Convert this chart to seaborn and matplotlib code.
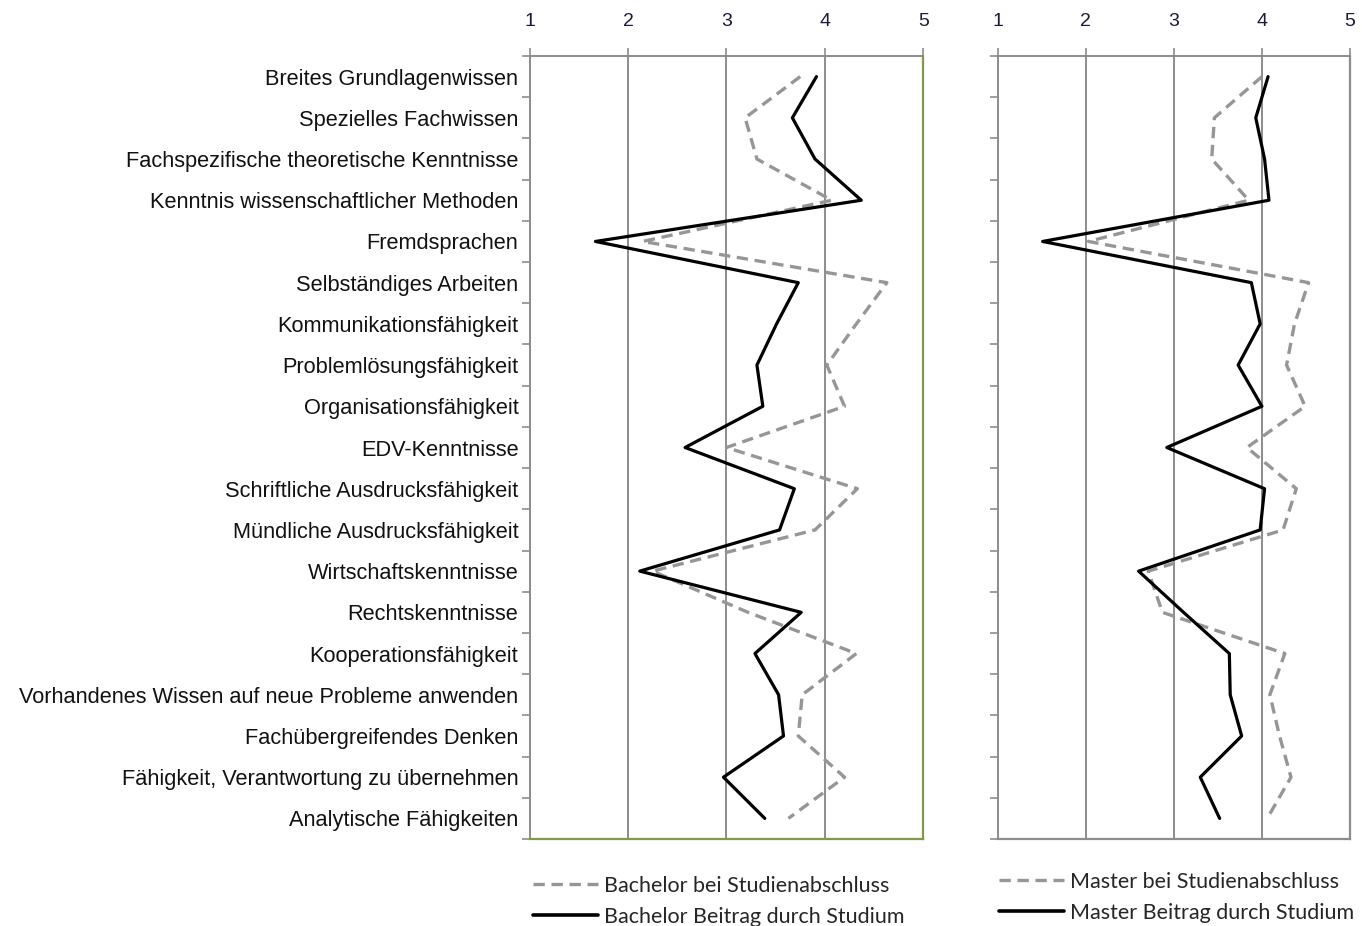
import matplotlib
matplotlib.use("Agg")
import matplotlib.pyplot as plt
import seaborn as sns
import pandas as pd
import numpy as np
from matplotlib.lines import Line2D

categories = [
    "Breites Grundlagenwissen",
    "Spezielles Fachwissen",
    "Fachspezifische theoretische Kenntnisse",
    "Kenntnis wissenschaftlicher Methoden",
    "Fremdsprachen",
    "Selbständiges Arbeiten",
    "Kommunikationsfähigkeit",
    "Problemlösungsfähigkeit",
    "Organisationsfähigkeit",
    "EDV-Kenntnisse",
    "Schriftliche Ausdrucksfähigkeit",
    "Mündliche Ausdrucksfähigkeit",
    "Wirtschaftskenntnisse",
    "Rechtskenntnisse",
    "Kooperationsfähigkeit",
    "Vorhandenes Wissen auf neue Probleme anwenden",
    "Fachübergreifendes Denken",
    "Fähigkeit, Verantwortung zu übernehmen",
    "Analytische Fähigkeiten",
]

bachelor_abschluss = [3.75, 3.19, 3.31, 4.07, 2.15, 4.63, 4.32, 4.02, 4.20, 3.00,
                      4.33, 3.90, 2.25, 3.22, 4.32, 3.77, 3.73, 4.20, 3.63]
bachelor_beitrag = [3.915, 3.67, 3.90, 4.37, 1.67, 3.73, 3.51, 3.31, 3.37, 2.58,
                    3.69, 3.54, 2.12, 3.76, 3.29, 3.53, 3.58, 2.97, 3.39]
master_abschluss = [4.00, 3.46, 3.43, 3.85, 2.03, 4.53, 4.37, 4.28, 4.49, 3.83,
                    4.39, 4.24, 2.71, 2.87, 4.26, 4.09, 4.20, 4.33, 4.06]
master_beitrag = [4.07, 3.93, 4.03, 4.08, 1.51, 3.88, 3.98, 3.73, 4.00, 2.92,
                  4.03, 3.98, 2.60, 3.11, 3.63, 3.64, 3.77, 3.30, 3.52]

x_ticks = [1, 2, 3, 4, 5]

sns.set_theme(style="white")
plt.rcParams['font.family'] = ['Liberation Sans', 'DejaVu Sans']

W, H = 1362, 926
fig = plt.figure(figsize=(W / 100, H / 100), dpi=100)

def px_axes(x0, x1, y0, y1):
    return fig.add_axes([x0 / W, 1 - y1 / H, (x1 - x0) / W, (y1 - y0) / H])

ax1 = px_axes(529.5, 923.3, 56, 839)
ax2 = px_axes(997.7, 1350, 56, 839)

grid_col = "#8c8c8c"
olive = "#7f9a48"
dash_col = "#969696"
dash_style = (0, (3.4, 2.0))

pos = np.arange(len(categories))

def draw(ax, abschluss, beitrag, lab_a, lab_b, show_labels, border_col):
    df_a = pd.DataFrame({"pos": pos, "value": abschluss})
    df_b = pd.DataFrame({"pos": pos, "value": beitrag})
    sns.lineplot(data=df_a, x="value", y="pos", orient="y", sort=False, ax=ax,
                 color=dash_col, linewidth=2.4, linestyle=dash_style,
                 estimator=None, label=lab_a, legend=False)
    sns.lineplot(data=df_b, x="value", y="pos", orient="y", sort=False, ax=ax,
                 color="black", linewidth=2.3, estimator=None, label=lab_b,
                 legend=False)
    ax.set_xlim(1, 5)
    ax.set_ylim(len(categories) - 0.5, -0.5)
    ax.set_xlabel("")
    ax.set_ylabel("")
    for xv in x_ticks[1:-1]:
        ax.axvline(xv, color=grid_col, linewidth=1.4, zorder=0)
    ax.xaxis.tick_top()
    ax.set_xticks(x_ticks)
    ax.set_xticklabels([str(v) for v in x_ticks])
    ax.tick_params(axis="x", which="major", direction="out", length=5.5, width=1.2,
                   color=grid_col, pad=13, labelsize=14, labelcolor="#1a1a3a",
                   top=True, bottom=False)
    ax.set_yticks(pos)
    if show_labels:
        ax.set_yticklabels(categories)
    else:
        ax.set_yticklabels([])
    ax.tick_params(axis="y", which="major", length=0, pad=8, labelsize=15.7,
                   labelcolor="#111111")
    ax.set_yticks(np.arange(-0.5, len(categories) + 0.5, 1), minor=True)
    ax.tick_params(axis="y", which="minor", direction="out", length=6, width=1.2,
                   color=grid_col, left=True)
    for s in ["top", "left"]:
        ax.spines[s].set_color(grid_col)
        ax.spines[s].set_linewidth(1.4)
    for s in ["bottom", "right"]:
        ax.spines[s].set_color(border_col)
        ax.spines[s].set_linewidth(1.6)

draw(ax1, bachelor_abschluss, bachelor_beitrag,
     "Bachelor bei Studienabschluss", "Bachelor Beitrag durch Studium", True, olive)
draw(ax2, master_abschluss, master_beitrag,
     "Master bei Studienabschluss", "Master Beitrag durch Studium", False, grid_col)

def add_legend(la, lb, x_px, y_px):
    handles = [Line2D([], [], color=dash_col, linewidth=2.4, linestyle=dash_style),
               Line2D([], [], color="black", linewidth=2.6)]
    fig.legend(handles, [la, lb], loc="upper left",
               bbox_to_anchor=(x_px / W, 1 - y_px / H), frameon=False,
               handlelength=3.0, handletextpad=0.3, labelspacing=0.5,
               prop={"family": "Lato", "size": 15.5}, borderpad=0, borderaxespad=0)

add_legend("Bachelor bei Studienabschluss", "Bachelor Beitrag durch Studium", 533, 876)
add_legend("Master bei Studienabschluss", "Master Beitrag durch Studium", 999, 872)

fig.savefig("out.png", dpi=100)
